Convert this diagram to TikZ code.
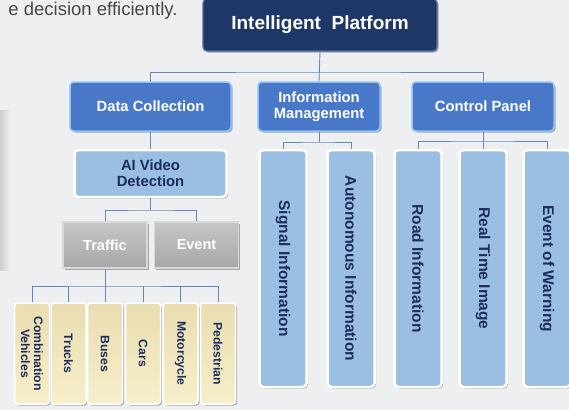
\documentclass[tikz,border=0pt]{standalone}
\usepackage{fontspec}
\setmainfont{Liberation Sans}
\usetikzlibrary{positioning,shadows}
\definecolor{bgc}{HTML}{EDEFF1}
\definecolor{navy}{HTML}{1E3766}
\definecolor{navyrim}{HTML}{4D6EA6}
\definecolor{midblue}{HTML}{4A78C9}
\definecolor{rimblue}{HTML}{8CC3F2}
\definecolor{paleblue}{HTML}{9BBFE3}
\definecolor{inktxt}{HTML}{1C2D5C}
\definecolor{linec}{HTML}{6686BE}
\definecolor{cream}{HTML}{F7EFCB}
\definecolor{creamtop}{HTML}{E9DDB0}
\tikzset{
  font=\bfseries,
  conn/.style ={draw=linec, line width=0.9pt},
  shad/.style ={drop shadow={shadow xshift=1.5pt, shadow yshift=-1.5pt, opacity=.3, fill=black}},
  root/.style ={draw=navyrim, line width=1.2pt, rounded corners=4pt, fill=navy, text=white, minimum width=234pt, minimum height=52pt, inner sep=0pt, font=\bfseries\fontsize{19}{21}\selectfont, shad},
  dept/.style ={draw=rimblue, line width=1.5pt, rounded corners=4pt, fill=midblue, text=white, minimum height=49pt, inner sep=0pt, align=center, font=\bfseries\fontsize{14.8}{16}\selectfont, shad},
  pale/.style ={draw=white, line width=2.5pt, rounded corners=4pt, fill=paleblue, text=inktxt, inner sep=0pt, align=center, font=\bfseries\fontsize{14.8}{16}\selectfont, shad},
  tall/.style ={pale, rotate=-90, minimum width=237pt, minimum height=47pt, font=\bfseries\fontsize{15.5}{17}\selectfont},
  bevel/.style={draw=gray!30, line width=1.5pt, top color=gray!45, bottom color=gray!68, text=white, minimum width=84pt, minimum height=46pt, inner sep=0pt, font=\bfseries\fontsize{14.5}{16}\selectfont, shad},
  veh/.style  ={draw=white, line width=1.5pt, rounded corners=3pt, top color=creamtop, bottom color=cream, text=inktxt, rotate=-90, minimum width=101pt, minimum height=35pt, inner sep=0pt, align=center, font=\bfseries\fontsize{12.2}{13}\selectfont, shad},
}

\begin{document}
\begin{tikzpicture}[x=1pt, y=1pt]
  \fill[bgc] (0,0) rectangle (569,-410);
  \useasboundingbox (0,0) rectangle (569,-410);
  \shade[left color=gray!40, right color=bgc] (0,-110) rectangle (10,-270);
  \node[anchor=east, font=\fontsize{18.5}{20}\selectfont, text=black!72] (intro) at (181,-11) {e decision efficiently.};

  % top levels
  \node[root] (plat) at (320,-25) {Intelligent\ \ Platform};
  \node[dept, minimum width=161pt] (dc) at (150.5,-106.5) {Data Collection};
  \node[dept, minimum width=122pt] (im) at (319,-106.5) {Information\\Management};
  \node[dept, minimum width=142pt] (cp) at (483,-106.5) {Control Panel};

  \coordinate (bus1) at (320,-72);
  \draw[conn] (plat.south) -- (im.north);
  \draw[conn] (dc.north) |- (bus1) -| (cp.north);

  % data collection branch
  \node[pale, minimum width=152pt, minimum height=47pt] (aivd) at (150.5,-173.5) {AI Video\\Detection};
  \draw[conn] (dc.south) -- (aivd.north);

  \node[bevel] (traffic) at (105,-245) {Traffic};
  \node[bevel, right=6pt of traffic] (event) {Event};
  \coordinate (bus2) at (150.5,-210);
  \draw[conn] (aivd.south) -- (bus2);
  \draw[conn] (traffic.north) |- (bus2) -| (event.north);

  \node[veh] (combo)  at (32,-353.5)   {Combination\\Vehicles};
  \node[veh] (trucks) at (68.5,-353.5) {Trucks};
  \node[veh] (buses)  at (105,-353.5)  {Buses};
  \node[veh] (cars)   at (143,-353.5)  {Cars};
  \node[veh] (moto)   at (180.5,-353.5){Motorcycle};
  \node[veh] (ped)    at (218,-353.5)  {Pedestrian};
  \coordinate (bus3) at (105,-286);
  \draw[conn] (traffic.south) -- (buses.west);
  \draw[conn] (combo.west) |- (bus3) -| (ped.west);
  \draw[conn] (trucks.west) -- (trucks.west |- bus3);
  \draw[conn] (cars.west) -- (cars.west |- bus3);
  \draw[conn] (moto.west) -- (moto.west |- bus3);

  % information management branch
  \node[tall] (sig)  at (283,-268.5) {Signal Information};
  \node[tall] (auto) at (351,-268.5) {Autonomous Information};
  \coordinate (bus4) at (319,-142);
  \draw[conn] (im.south) -- (bus4);
  \draw[conn] (sig.west) |- (bus4) -| (auto.west);

  % control panel branch
  \node[tall] (road)  at (418,-268.5) {Road Information};
  \node[tall] (rti)   at (483,-268.5) {Real Time Image};
  \node[tall] (ewarn) at (547,-268.5) {Event of Warning};
  \coordinate (bus5) at (483,-141);
  \draw[conn] (cp.south) -- (rti.west);
  \draw[conn] (road.west) |- (bus5) -| (ewarn.west);
\end{tikzpicture}
\end{document}
